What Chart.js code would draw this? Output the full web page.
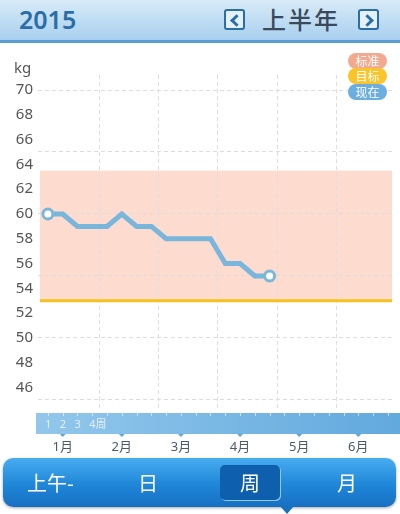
<!DOCTYPE html>
<html>
<head>
<meta charset="utf-8">
<script src="https://cdn.jsdelivr.net/npm/chart.js@4.4.1/dist/chart.umd.min.js"></script>
<style>
	body { margin: 0; width: 400px; height: 514px; overflow: hidden; background: #fff; position: relative;
		font-family: "Noto Sans", "Noto Sans CJK SC", sans-serif; }
	#head { position: absolute; left: 0; top: 0; width: 400px; height: 40px; z-index: 2;
		background: linear-gradient(#d8ebf8, #a8cfee); border-bottom: 3px solid #5a9ed1; }
	#year { position: absolute; left: 19px; top: 2px; font-size: 25px; font-weight: 600; color: #2b6ea7; }
	.arrow { position: absolute; top: 9px; width: 17px; height: 17px; border: 2px solid #2b6ea7; border-radius: 3px;
		background: #e4f1fb; }
	.arrow span { position: absolute; top: 5px; width: 6px; height: 6px; border-left: 3px solid #2b6ea7; border-bottom: 3px solid #2b6ea7; }
	.arrow.l span { left: 6px; transform: rotate(45deg); }
	.arrow.r span { left: 3px; transform: rotate(-135deg); }
	#half { position: absolute; left: 262px; top: 1px; font: 500 24px "Noto Sans CJK SC", sans-serif; color: #3b4a5a; letter-spacing: 2px; }
	.pill { position: absolute; left: 348px; width: 39px; height: 16px; border-radius: 8px; color: #fff;
		font: 12px "Noto Sans CJK SC", sans-serif; line-height: 16px; text-align: center; z-index: 2; }
	#wrap { position: absolute; left: 0; top: 42px; width: 400px; height: 416px; }
	#tabs { position: absolute; left: 3px; top: 458px; width: 393px; height: 49px; border-radius: 10px; z-index: 2;
		background: linear-gradient(#48adf1, #1f86d8 55%, #176fc2); box-shadow: 0 1px 3px rgba(0,0,0,0.35); }
	.tab { position: absolute; top: 0; height: 49px; color: #fff;
		font: 20px "Noto Sans CJK SC", sans-serif; line-height: 49px; }
	#sel { position: absolute; left: 217px; top: 7px; width: 60px; height: 35px; border-radius: 5px;
		background: #0e5fae; box-shadow: 1px 1px 0 #8cc8f2; }
	#tip { position: absolute; left: 280px; top: 506px; width: 0; height: 0; z-index: 3;
		border-left: 7px solid transparent; border-right: 7px solid transparent; border-top: 8px solid #1770c2; }
</style>
</head>
<body>
<div id="head">
	<div id="year">2015</div>
	<div class="arrow l" style="left:224px"><span></span></div>
	<div id="half">上半年</div>
	<div class="arrow r" style="left:358px"><span></span></div>
</div>
<div class="pill" style="top:53px;background:#f3a98f">标准</div>
<div class="pill" style="top:68px;background:#fbc42a">目标</div>
<div class="pill" style="top:84px;background:#6caee0">现在</div>
<div id="wrap"><canvas id="weight"></canvas></div>
<div id="tabs">
	<div id="sel"></div>
	<div class="tab" style="left:24px">上午-</div>
	<div class="tab" style="left:135px">日</div>
	<div class="tab" style="left:237px">周</div>
	<div class="tab" style="left:334px">月</div>
</div>
<div id="tip"></div>
<script>
"use strict";

// data
var weeks = [1, 2, 3, 4, 5, 6, 7, 8, 9, 10, 11, 12, 13, 14, 15, 16];
var weights = [60, 60, 59, 59, 59, 60, 59, 59, 58, 58, 58, 58, 56, 56, 55, 55];
var monthWeeks = [2, 6, 10, 14, 18, 22];
var monthLabels = ["1月", "2月", "3月", "4月", "5月", "6月"];
var monthBounds = [4.5, 8.5, 12.5, 16.5, 20.5];
var weekLabels = ["1", "2", "3", "4周"];
var standardRange = [53, 63.5];
var targetWeight = 53;

var lineBlue = "#79b6dc";

var zones = {
	id: "zones",
	beforeDraw: function (chart) {
		var c = chart.ctx, a = chart.chartArea, y = chart.scales.y, x = chart.scales.x;
		var top = y.getPixelForValue(standardRange[1]);
		var bot = y.getPixelForValue(standardRange[0]);
		c.save();
		c.fillStyle = "#fddbcf";
		c.fillRect(a.left + 2, top, a.right - a.left - 2, bot - top);

		// week band under the plot
		var b0 = a.bottom + 3, b1 = a.bottom + 24;
		var g = c.createLinearGradient(a.left, 0, chart.width, 0);
		g.addColorStop(0, "#92c7eb");
		g.addColorStop(1, "#62a9de");
		c.fillStyle = g;
		c.fillRect(a.left - 2, b0, chart.width - a.left + 2, b1 - b0);
		c.strokeStyle = "rgba(255,255,255,0.6)";
		c.lineWidth = 1;
		for (var w = 1; w <= 24; w++) {
			var px = Math.round(x.getPixelForValue(w)) + 0.5;
			c.beginPath();
			c.moveTo(px, b0);
			c.lineTo(px, b0 + 3);
			c.stroke();
		}
		c.fillStyle = "#5fa6da";
		monthWeeks.forEach(function (m) {
			var px = x.getPixelForValue(m);
			c.beginPath();
			c.moveTo(px - 3, b1);
			c.lineTo(px + 3, b1);
			c.lineTo(px, b1 + 3);
			c.fill();
		});
		c.fillStyle = "rgba(255,255,255,0.75)";
		c.font = "11px 'Noto Sans', 'Noto Sans CJK SC', sans-serif";
		c.textBaseline = "middle";
		c.textAlign = "left";
		weekLabels.forEach(function (t, i) {
			c.fillText(t, x.getPixelForValue(weeks[i]) - 3, (b0 + b1) / 2 + 1);
		});

		// unit label
		c.fillStyle = "#555";
		c.font = "15px 'Noto Sans', sans-serif";
		c.fillText("kg", 14, y.getPixelForValue(70) - 21);
		c.restore();
	},
	beforeDatasetsDraw: function (chart) {
		var c = chart.ctx, a = chart.chartArea, y = chart.scales.y;
		var ty = y.getPixelForValue(targetWeight);
		c.save();
		c.strokeStyle = "#f8c21c";
		c.lineWidth = 3;
		c.beginPath();
		c.moveTo(a.left + 2, ty);
		c.lineTo(a.right, ty);
		c.stroke();
		c.restore();
	}
};

var ctx = document.getElementById("weight");
var weightChart = new Chart(ctx, {
	type: "line",
	data: {
		datasets: [
			{
				label: "现在",
				data: weeks.map(function (w, i) { return { x: w, y: weights[i] }; }),
				borderColor: lineBlue,
				borderWidth: 5,
				tension: 0,
				pointRadius: function (c) { return (c.dataIndex === 0 || c.dataIndex === weeks.length - 1) ? 5 : 0; },
				pointBackgroundColor: "#fff",
				pointBorderColor: lineBlue,
				pointBorderWidth: 3
			}
		]
	},
	plugins: [zones],
	options: {
		responsive: true,
		maintainAspectRatio: false,
		animation: false,
		layout: { padding: { top: 33, right: 4, left: 0, bottom: 0 } },
		plugins: { legend: { display: false }, tooltip: { enabled: false } },
		scales: {
			x: {
				type: "linear",
				min: 0.33,
				max: 24.28,
				afterBuildTicks: function (s) {
					s.ticks = monthWeeks.concat(monthBounds).map(function (v) { return { value: v }; });
				},
				afterFit: function (s) { s.height = 48; },
				ticks: {
					autoSkip: false,
					maxRotation: 0,
					padding: 29,
					color: "#4b5a69",
					font: { size: 13, family: "'Noto Sans', 'Noto Sans CJK SC', sans-serif" },
					callback: function (v) {
						var i = monthWeeks.indexOf(v);
						return i >= 0 ? monthLabels[i] : "";
					}
				},
				grid: {
					drawTicks: false,
					color: function (c) {
						return c.tick && monthBounds.indexOf(c.tick.value) >= 0 ? "#dedede" : "transparent";
					}
				},
				border: { display: false, dash: [4, 3] }
			},
			y: {
				min: 44.19,
				max: 71.21,
				afterBuildTicks: function (s) {
					var t = [];
					for (var v = 45; v <= 70; v++) t.push({ value: v });
					s.ticks = t;
				},
				afterFit: function (s) { s.width = 38; },
				ticks: {
					autoSkip: false,
					padding: 5,
					color: "#555",
					font: { size: 15, family: "'Noto Sans', sans-serif" },
					callback: function (v) { return v % 2 === 0 ? v : ""; }
				},
				grid: {
					drawTicks: false,
					color: function (c) {
						return c.tick && c.tick.value % 5 === 0 ? "#dcdcdc" : "transparent";
					}
				},
				border: { display: false, dash: [4, 3] }
			}
		}
	}
});
</script>
</body>
</html>
